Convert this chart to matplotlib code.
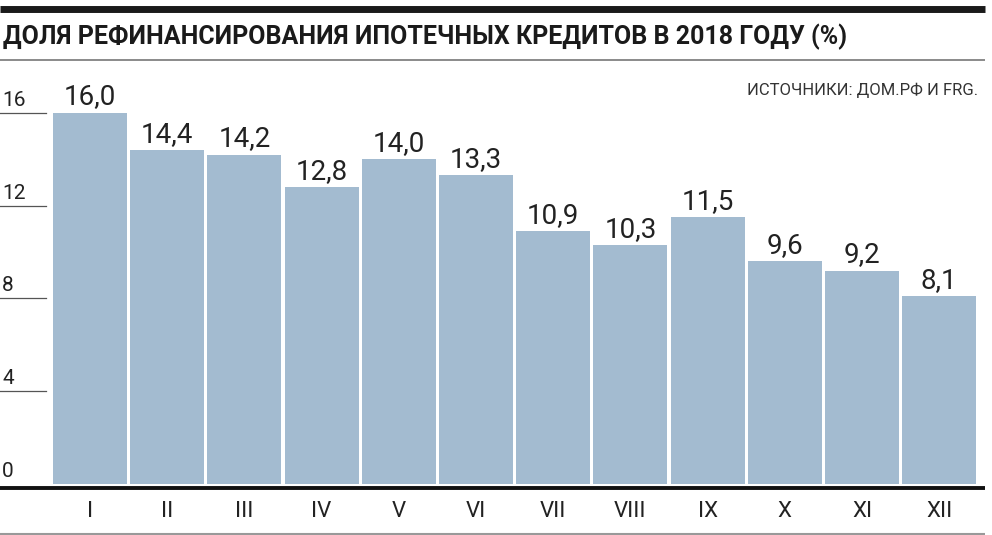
import matplotlib
matplotlib.use("Agg")
import matplotlib.pyplot as plt
from matplotlib.lines import Line2D

months = ["I", "II", "III", "IV", "V", "VI", "VII", "VIII", "IX", "X", "XI", "XII"]
shares = [16.0, 14.4, 14.2, 12.8, 14.0, 13.3, 10.9, 10.3, 11.5, 9.6, 9.2, 8.1]
yticks = [0, 4, 8, 12, 16]

title = "ДОЛЯ РЕФИНАНСИРОВАНИЯ ИПОТЕЧНЫХ КРЕДИТОВ В 2018 ГОДУ (%)"
source = "ИСТОЧНИКИ: ДОМ.РФ И FRG."

plt.rcParams['font.family'] = ['Roboto', 'DejaVu Sans']

W, H = 992, 535
fig = plt.figure(figsize=(W / 100, H / 100), dpi=100)

# axes placed in pixel terms: bottom at y=484, top at y=65, from x=0 to x=985
ax_bottom, ax_top = 484, 65
ax = fig.add_axes([0, 1 - ax_bottom / H, 985 / W, (ax_bottom - ax_top) / H])

pitch = 77.2
x0 = 90
ax.set_xlim(-x0 / pitch, (985 - x0) / pitch)
ax.set_ylim(0, (ax_bottom - ax_top) / 23.2)

pos = list(range(len(months)))
ax.bar(pos, shares, width=74 / pitch, color="#a3bbd0", edgecolor="none")

for x, v in zip(pos, shares):
    ax.annotate(f"{v:.1f}".replace(".", ","), (x, v), xytext=(0, 6), textcoords="offset points",
                ha="center", va="baseline", fontsize=20, color="#222222")

# y tick marks and labels on the left
for t in yticks:
    if t > 0:
        ax.axhline(t, xmin=0, xmax=46 / 985, color="#555555", lw=0.9)
    ax.annotate(str(t), (0, t), xycoords=("axes fraction", "data"), xytext=(1.5, 5),
                textcoords="offset points", ha="left", va="baseline", fontsize=15,
                color="#222222")

ax.set_xticks(pos)
ax.set_xticklabels(months, fontsize=16, color="#222222")
ax.tick_params(axis="x", length=0, pad=12)
ax.set_yticks([])
for s in ax.spines.values():
    s.set_visible(False)

# decorative rules
def hrule(y, x1, x2, lw, color):
    fig.add_artist(Line2D([x1 / W, x2 / W], [1 - y / H, 1 - y / H], transform=fig.transFigure,
                          lw=lw, color=color, solid_capstyle="butt"))

hrule(8.5, 0, 985, 5, "#1a1a1a")
hrule(60, 0, 985, 1.2, "#777777")
hrule(487.5, 0, 985, 2.8, "#111111")
hrule(533.5, 0, 985, 1.5, "#999999")

fig.text(3 / W, 1 - 44 / H, title, ha="left", va="baseline", fontsize=18, fontweight="bold", color="#1a1a1a")
fig.text(978 / W, 1 - 95 / H, source, ha="right", va="baseline", fontsize=12, color="#333333")

fig.savefig("out.png", dpi=100)
